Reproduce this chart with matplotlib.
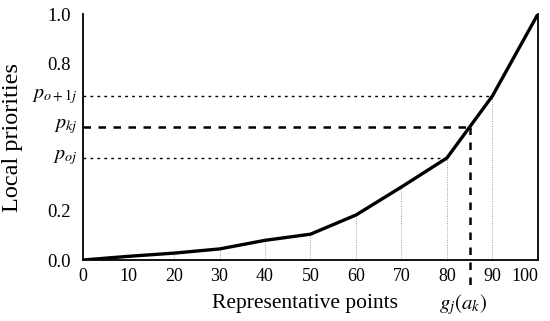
import numpy as np
import matplotlib
matplotlib.use('Agg')
import matplotlib.pyplot as plt

plt.rcParams['font.family'] = 'Liberation Serif'
plt.rcParams['mathtext.fontset'] = 'stix'

# representative points and their local priorities
points = [0, 10, 20, 30, 40, 50, 60, 70, 80, 90, 100]
priorities = [0.0, 0.015, 0.028, 0.045, 0.08, 0.105, 0.183, 0.297, 0.415, 0.667, 1.0]
yticks = [0.0, 0.2, 0.8, 1.0]
xticks = [0, 10, 20, 30, 40, 50, 60, 70, 80, 90, 100]
g_ak = 85.0  # g_j(a_k)

p_oj = priorities[8]
p_o1j = priorities[9]
p_kj = np.interp(g_ak, points, priorities)

fig = plt.figure(figsize=(5.5, 3.21), dpi=100)
ax = fig.add_axes([0.151, 0.19, 0.827, 0.766])

# thin grey drop lines under each point
for xp, yp in zip(points[1:-1], priorities[1:-1]):
    ax.plot([xp, xp], [0, yp], color='#999999', lw=0.7, ls=(0, (1, 1.5)), zorder=1)

ax.plot(points, priorities, color='black', lw=2.4, zorder=3)

# reference lines
ax.plot([0, 90], [p_o1j, p_o1j], color='black', lw=1.0, ls=(0, (2, 3)), zorder=2)
ax.plot([0, 80], [p_oj, p_oj], color='black', lw=1.0, ls=(0, (2, 3)), zorder=2)
ax.plot([0, g_ak], [p_kj, p_kj], color='black', lw=1.8, ls=(0, (3, 3)), zorder=2)
ax.plot([g_ak, g_ak], [p_kj, -0.115], color='black', lw=1.8, ls=(0, (3, 3)),
        zorder=2, clip_on=False)

ax.set_xlim(0, 100)
ax.set_ylim(0, 1.0)
ax.set_xticks(xticks)
ax.set_xticklabels([str(t) for t in xticks])
ax.set_yticks(yticks)
ax.set_yticklabels(['0.0', '0.2', '0.8', '1.0'])
ax.tick_params(axis='x', length=0, labelsize=13, pad=6)
ax.tick_params(axis='y', length=0, labelsize=13.5, pad=9)
ax.get_xticklabels()[-1].set_horizontalalignment('right')
ax.get_xticklabels()[-1].set_x(101.5)

# p labels beside the axis
trans = ax.get_yaxis_transform()
for yv, txt in [(p_oj, r'$p_{oj}$'), (p_kj, r'$p_{kj}$'), (p_o1j, r'$p_{o+1j}$')]:
    ax.text(-0.012, yv, txt, fontsize=14.5, ha='right', va='center',
            transform=trans, clip_on=False)

ax.spines['top'].set_visible(False)
for s in ['left', 'bottom', 'right']:
    ax.spines[s].set_linewidth(1.3)

ax.set_xlabel('Representative points', fontsize=15.5)
ax.xaxis.set_label_coords((306 - 83) / 457, (260 - 294) / 246)
ax.set_ylabel('Local priorities', fontsize=17.5)
ax.yaxis.set_label_coords((23 - 83) / 457, (260 - 137) / 246)
ax.text(g_ak - 1.5, -0.18, r'$g_j(a_k)$', fontsize=15, ha='center', va='center',
        transform=ax.transData, clip_on=False)

fig.savefig('out.png', dpi=100)
